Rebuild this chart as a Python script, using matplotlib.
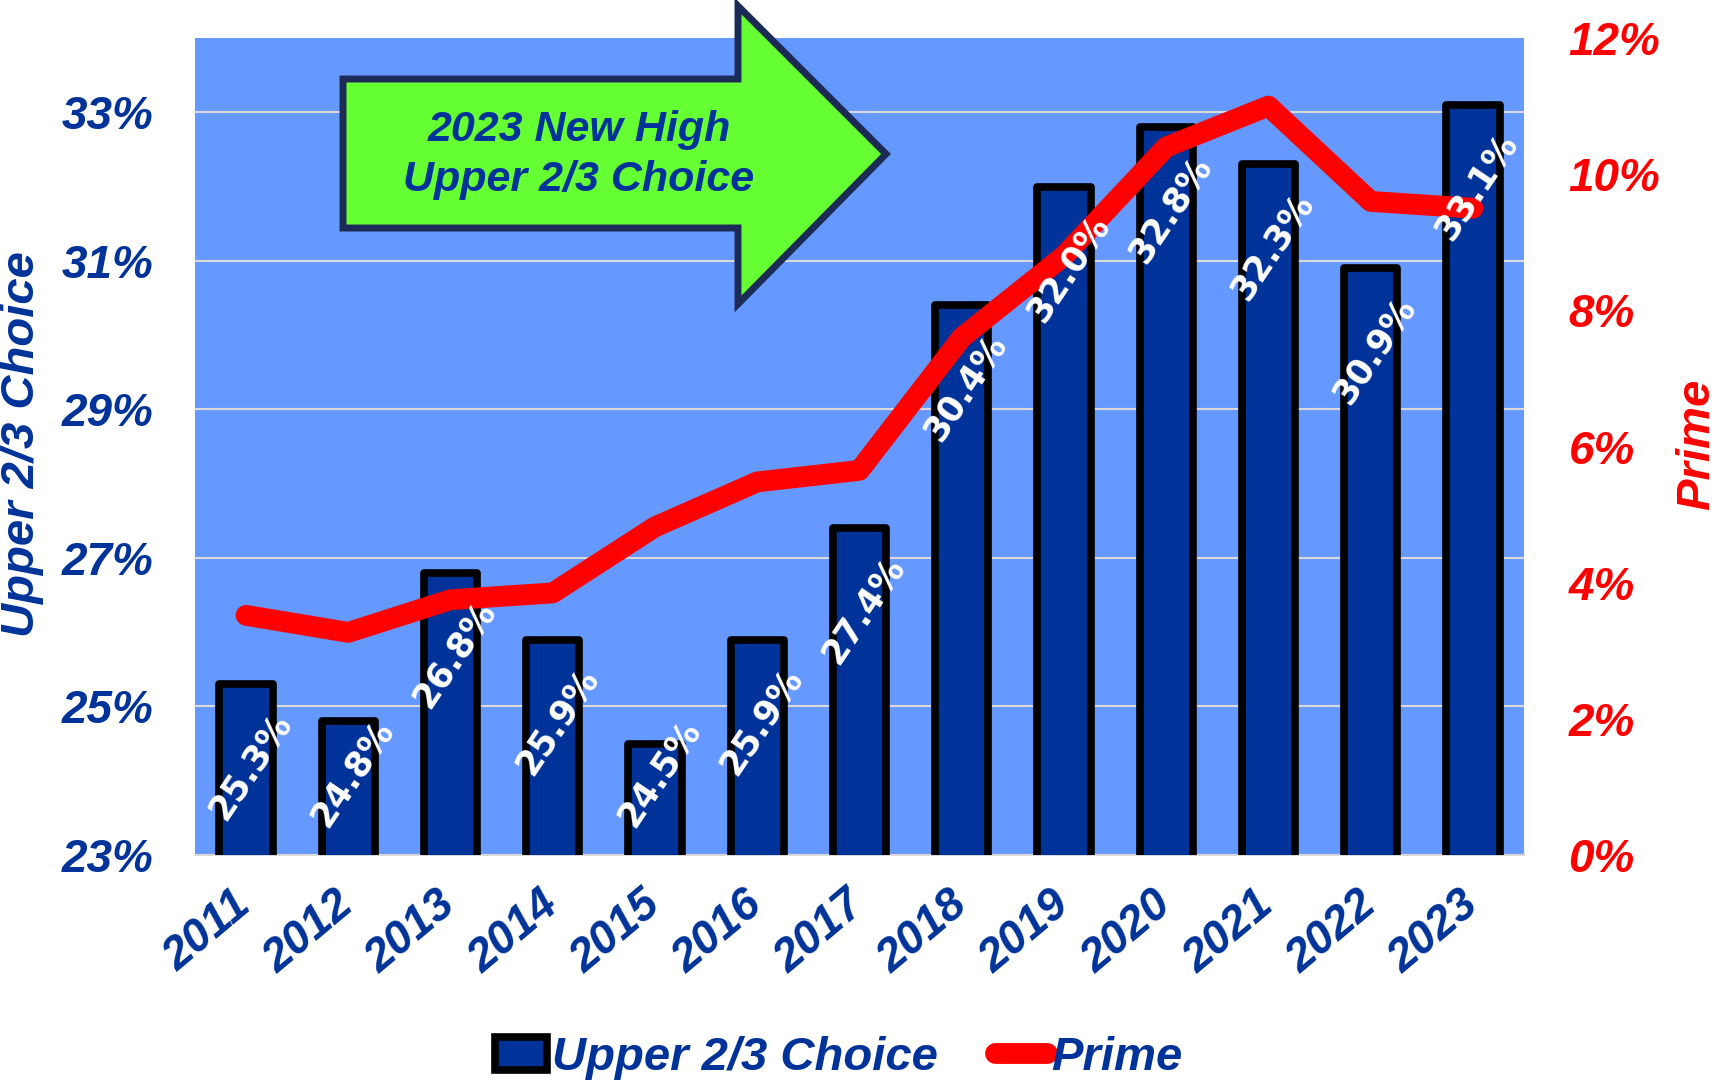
import numpy as np
import matplotlib
matplotlib.use("Agg")
import matplotlib.pyplot as plt
from matplotlib.patches import Polygon

# ---------------- Data ----------------
years = ["2011", "2012", "2013", "2014", "2015", "2016", "2017",
         "2018", "2019", "2020", "2021", "2022", "2023"]
upper_choice = [25.3, 24.8, 26.8, 25.9, 24.5, 25.9, 27.4,
                30.4, 32.0, 32.8, 32.3, 30.9, 33.1]
prime = [3.52, 3.27, 3.75, 3.85, 4.82, 5.48, 5.65,
         7.6, 8.8, 10.4, 11.0, 9.6, 9.5]
left_ticks = [23, 25, 27, 29, 31, 33]
right_ticks = [0, 2, 4, 6, 8, 10, 12]

navy = "#003399"
tick_font = dict(family="Liberation Sans", weight="bold", style="italic")

# ---------------- Plot ----------------
fig = plt.figure(figsize=(17.19, 10.83), dpi=100)
ax = fig.add_axes([0.1134, 0.2105, 0.7732, 0.7544])
ax.set_facecolor("#6699FF")

x = np.arange(len(years))
bars = ax.bar(x, upper_choice, width=0.52, color=navy, edgecolor="black",
              linewidth=5.5, joinstyle="round", zorder=3)
ax.set_xlim(-0.5, len(years) - 0.5)
ax.set_ylim(23, 34)
ax.set_yticks(left_ticks)
ax.set_yticklabels([f"{t}%" for t in left_ticks], color=navy, fontsize=33, **tick_font)
ax.set_xticks(x)
ax.set_xticklabels(years, rotation=40, ha="right", va="center", rotation_mode="anchor",
                   color=navy, fontsize=33, **tick_font)
ax.tick_params(axis="y", length=0, pad=30)
ax.tick_params(axis="x", length=0, pad=32)
ax.yaxis.grid(True, color="#D9D9D9", linewidth=1.5)
ax.set_axisbelow(True)
for side in ["top", "left", "right"]:
    ax.spines[side].set_visible(False)
ax.spines["bottom"].set_color("#D9D9D9")
ax.spines["bottom"].set_linewidth(1.5)

# Prime on the right axis
ax2 = ax.twinx()
line, = ax2.plot(x, prime, color="red", linewidth=15,
                 solid_capstyle="round", solid_joinstyle="round", zorder=4)
ax2.set_ylim(0, 12)
ax2.set_yticks(right_ticks)
ax2.set_yticklabels([f"{t}%" for t in right_ticks], color="red", fontsize=33, **tick_font)
ax2.tick_params(axis="y", length=0, pad=32)
for side in ax2.spines:
    ax2.spines[side].set_visible(False)

# bar value labels (inside end, kept inside the plot area; drawn on ax2 so
# they sit above the red line)
for xi, v in zip(x, upper_choice):
    ypos = max(v - 1.1, 24.1)
    ax2.annotate(f"{v:.1f}%", xy=(xi, ypos), xycoords=ax.transData,
                 xytext=(3, 0), textcoords="offset points",
                 ha="center", va="center", rotation=56, color="white",
                 fontsize=25, fontweight="bold", family="DejaVu Sans",
                 annotation_clip=False, zorder=5)

# axis titles
fig.text(22 / 1719, 1 - 444 / 1083, "Upper 2/3 Choice", rotation=90,
         ha="center", va="center", color=navy, fontsize=34, **tick_font)
fig.text(1697 / 1719, 1 - 444 / 1083, "Prime", rotation=90,
         ha="center", va="center", color="red", fontsize=34, **tick_font)

# green arrow callout
W, H = 1719, 1083
arrow_px = [(343, 79), (738, 79), (738, 6), (886, 154),
            (738, 304), (738, 228), (343, 228)]
arrow = Polygon([(px / W, 1 - py / H) for px, py in arrow_px], closed=True,
                transform=fig.transFigure, facecolor="#66FF33",
                edgecolor="#1C2B55", linewidth=5, joinstyle="miter", zorder=10)
fig.add_artist(arrow)
fig.text(579 / W, 1 - 155 / H, "2023 New High\nUpper 2/3 Choice", ha="center",
         va="center", color=navy, fontsize=31, linespacing=1.33, zorder=11, **tick_font)

# legend
fig.legend([bars, line], ["Upper 2/3 Choice", "Prime"], loc="center",
           bbox_to_anchor=(839 / W, 1 - 1058 / H), ncol=2, frameon=False,
           handlelength=1.1, handletextpad=0.1, columnspacing=1.2,
           prop=dict(family="Liberation Sans", weight="bold", style="italic", size=34),
           labelcolor=navy)

fig.savefig("out.png", dpi=100)
